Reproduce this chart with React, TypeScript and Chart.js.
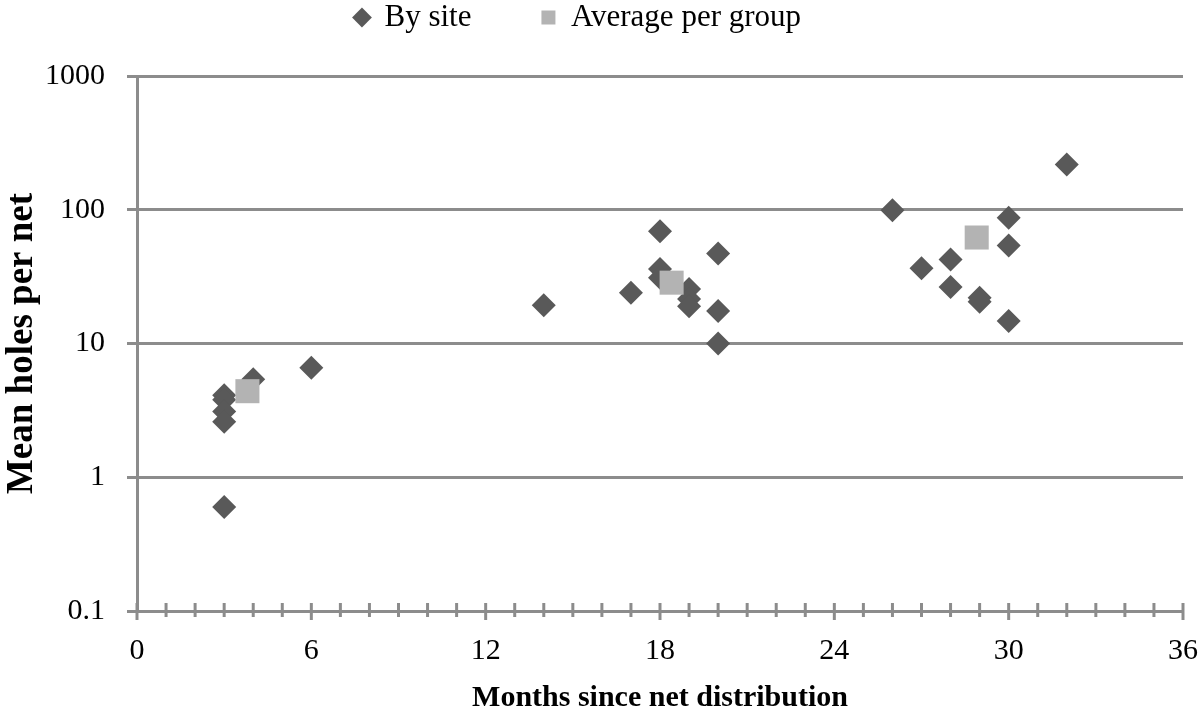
import React, { useEffect, useRef } from "react";
import { Chart, registerables } from "chart.js";

Chart.register(...registerables);

// ---- data ----
const seriesNames = ["By site", "Average per group"];
const bySiteMonths = [3, 3, 3, 3, 3, 4, 6, 14, 17, 18, 18, 18, 19, 19, 19, 20, 20, 20, 26, 27, 28, 28, 29, 29, 30, 30, 30, 32];
const bySiteHoles = [4.1, 3.8, 3.1, 2.6, 0.6, 5.4, 6.6, 19.3, 24, 69, 36, 31, 25.6, 21.5, 19, 47, 17.5, 10, 99, 36.5, 42.5, 26.5, 22, 20.5, 87, 54, 14.7, 218];
const groupMonths = [3.8, 18.4, 28.9];
const groupHoles = [4.4, 28.5, 62];
const yTickValues = [0.1, 1, 10, 100, 1000];
const yTickLabels = ["0.1", "1", "10", "100", "1000"];
const xMin = 0;
const xMax = 36;
const xLabelStep = 6;
const xTitle = "Months since net distribution";
const yTitle = "Mean holes per net";

const GRID = "#8c8c8c";
const DARK = "#595959";
const LIGHT = "#b3b3b3";
const FONT = "'Liberation Serif', 'Times New Roman', serif";

const LEGEND_PAD = 70;
const LEGEND_EXTRA = 33;
const LEGEND_SHIFT = 30;

const crossTicks = {
  id: "crossTicks",
  beforeDatasetsDraw(chart: any) {
    const xs = chart.scales.x;
    const bottom = chart.chartArea.bottom;
    const ctx = chart.ctx;
    ctx.save();
    ctx.strokeStyle = GRID;
    ctx.lineWidth = 3;
    for (const t of xs.ticks) {
      const px = xs.getPixelForValue(t.value);
      const major = t.value % xLabelStep === 0;
      ctx.beginPath();
      ctx.moveTo(px, bottom - 8);
      ctx.lineTo(px, bottom + (major ? 9 : 6));
      ctx.stroke();
    }
    ctx.restore();
  },
};

const legendSpacer = {
  id: "legendSpacer",
  beforeLayout(chart: any) {
    const lg = chart.legend;
    if (lg && !lg._spacerPatched) {
      const orig = lg.fit;
      lg.fit = function () {
        orig.call(this);
        this.height += LEGEND_EXTRA;
      };
      lg._spacerPatched = true;
    }
  },
  afterLayout(chart: any) {
    const lg = chart.legend;
    if (lg) lg.right -= LEGEND_SHIFT;
  },
};

export default function App() {
  const ref = useRef<HTMLCanvasElement | null>(null);

  useEffect(() => {
    if (!ref.current) return;
    const chart = new Chart(ref.current, {
      type: "scatter",
      data: {
        datasets: [
          {
            label: seriesNames[0],
            data: bySiteMonths.map((m, i) => ({ x: m, y: bySiteHoles[i] })),
            pointStyle: "rectRot",
            pointRadius: 12,
            pointHoverRadius: 12,
            backgroundColor: DARK,
            borderColor: DARK,
            borderWidth: 0,
            order: 2,
          },
          {
            label: seriesNames[1],
            data: groupMonths.map((m, i) => ({ x: m, y: groupHoles[i] })),
            pointStyle: "rect",
            pointRadius: 17,
            pointHoverRadius: 17,
            backgroundColor: LIGHT,
            borderColor: LIGHT,
            borderWidth: 0,
            order: 1,
          },
        ],
      },
      options: {
        animation: false,
        responsive: false,
        maintainAspectRatio: false,
        layout: { padding: { top: -LEGEND_PAD + 2, right: 14, left: 0, bottom: 0 } },
        plugins: {
          tooltip: { enabled: false },
          legend: {
            position: "top",
            labels: {
              usePointStyle: true,
              boxHeight: 14,
              boxWidth: 14,
              padding: LEGEND_PAD,
              color: "#000",
              font: { family: FONT, size: 31 },
              sort: (a: any, b: any) => a.datasetIndex - b.datasetIndex,
            },
          },
        },
        scales: {
          x: {
            type: "linear",
            min: xMin,
            max: xMax,
            afterFit: (s: any) => {
              s.height = 101;
              s.paddingRight = 14;
              s.paddingLeft = 0;
            },
            ticks: {
              stepSize: 1,
              autoSkip: false,
              maxRotation: 0,
              padding: 14,
              color: "#000",
              font: { family: FONT, size: 30 },
              callback: (v: any) => (Number(v) % xLabelStep === 0 ? String(v) : ""),
            },
            grid: { display: false, drawTicks: true, tickLength: 8 },
            border: { display: true, color: GRID, width: 3 },
            title: {
              display: true,
              text: xTitle,
              color: "#000",
              font: { family: FONT, size: 30, weight: "bold" },
              padding: { top: 0, bottom: -4 },
            },
          },
          y: {
            type: "logarithmic",
            min: 0.1,
            max: 1000,
            afterFit: (s: any) => {
              s.width = 137;
            },
            afterBuildTicks: (s: any) => {
              s.ticks = yTickValues.map((v) => ({ value: v }));
            },
            ticks: {
              padding: 22,
              color: "#000",
              font: { family: FONT, size: 30 },
              callback: (v: any) => {
                const i = yTickValues.findIndex((t) => Math.abs(t - Number(v)) < 1e-9);
                return i >= 0 ? yTickLabels[i] : "";
              },
            },
            grid: { color: GRID, lineWidth: 3, tickLength: 10, drawTicks: true },
            border: { display: true, color: GRID, width: 3 },
            title: {
              display: true,
              text: yTitle,
              color: "#000",
              font: { family: FONT, size: 37, weight: "bold" },
              padding: { top: 0, bottom: 0 },
            },
          },
        },
      },
      plugins: [crossTicks, legendSpacer],
    } as any);
    return () => chart.destroy();
  }, []);

  return (
    <div style={{ position: "fixed", left: 0, top: 0, width: 1200, height: 712, background: "#fff" }}>
      <canvas ref={ref} width={1200} height={712} style={{ display: "block", width: 1200, height: 712 }} />
    </div>
  );
}
